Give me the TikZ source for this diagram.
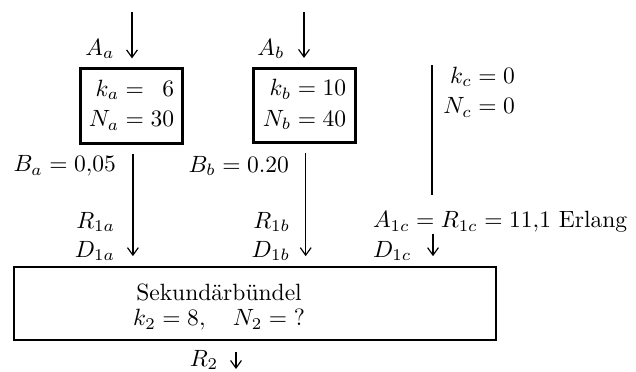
\documentclass[tikz,border=0pt]{standalone}
\usepackage{amsmath}
\usetikzlibrary{arrows.meta}
\begin{document}
\begin{tikzpicture}[x=0.425pt,y=-0.425pt,
  lab/.style={inner sep=0pt, outer sep=0pt},
  smallbox/.style={draw, line width=1.25pt, inner sep=0pt, minimum width=43.5pt, minimum height=31.6pt},
  bigbox/.style={draw, line width=0.85pt, inner sep=0pt, minimum width=204.9pt, minimum height=31pt},
  arr/.style={-{Straight Barb[length=3.2pt,width=4.6pt]}, line width=0.5pt},
  ln/.style={line width=0.5pt}]
\useasboundingbox (0,0) rectangle (636,371);

% boxes
\node[smallbox] (boxa) at (131.5,106) {$\begin{aligned} k_a &= \phantom{3}6\\[-2pt] N_a &= 30\end{aligned}$};
\node[smallbox] (boxb) at (304.5,105.5) {$\begin{aligned} k_b &= 10\\[-2pt] N_b &= 40\end{aligned}$};
\node[bigbox] (bot) at (255,303.5) {};

% box texts
\node[lab] (sek) at (219,292) {Sekundärbündel};
\node[lab] (k2) at (219,320) {$k_2 = 8,\quad N_2 = \;?$};

% coordinates
\coordinate (ta) at (132,12);
\coordinate (tb) at (304,12);
\coordinate (c1) at (432,65);
\coordinate (c2) at (432,195);
\coordinate (c3) at (433,234);
\coordinate (r2s) at (236,352);
\coordinate (r2e) at (236,369);

% arrows
\draw[arr, shorten >=3.8pt] (ta) -- (ta |- boxa.north);
\draw[arr, shorten >=3.8pt] (tb) -- (tb |- boxb.north);
\draw[arr, shorten <=3.8pt, shorten >=4.2pt] ([xshift=0.6pt]boxa.south) -- ([xshift=0.6pt]boxa.south |- bot.north);
\draw[arr, shorten <=3.8pt, shorten >=4.2pt] ([xshift=0.5pt]boxb.south) -- ([xshift=0.5pt]boxb.south |- bot.north);
\draw[ln] (c1) -- (c2);
\draw[arr, shorten >=4.2pt] (c3) -- (c3 |- bot.north);
\draw[arr] (r2s) -- (r2e);

% labels
\node[lab] (Aa) at (100,49) {$A_a$};
\node[lab] (Ab) at (271,49) {$A_b$};
\node[lab, anchor=east] (Ba) at (116,166) {$B_a = 0{,}05$};
\node[lab, anchor=east] (Bb) at (289,166) {$B_b = 0.20$};
\node[lab, anchor=east] (R1a) at (115,222) {$R_{1a}$};
\node[lab, anchor=east] (D1a) at (115,251) {$D_{1a}$};
\node[lab, anchor=east] (R1b) at (290,222) {$R_{1b}$};
\node[lab, anchor=east] (D1b) at (290,251) {$D_{1b}$};
\node[lab, anchor=west] (A1c) at (373,222) {$A_{1c} = R_{1c} = 11{,}1$ Erlang};
\node[lab, anchor=west] (D1c) at (373,251) {$D_{1c}$};
\node[lab, anchor=east] (kc) at (515,93) {$\begin{aligned} k_c &= 0\\[-2pt] N_c &= 0\end{aligned}$};
\node[lab] (R2) at (204,360) {$R_2$};
\end{tikzpicture}
\end{document}
